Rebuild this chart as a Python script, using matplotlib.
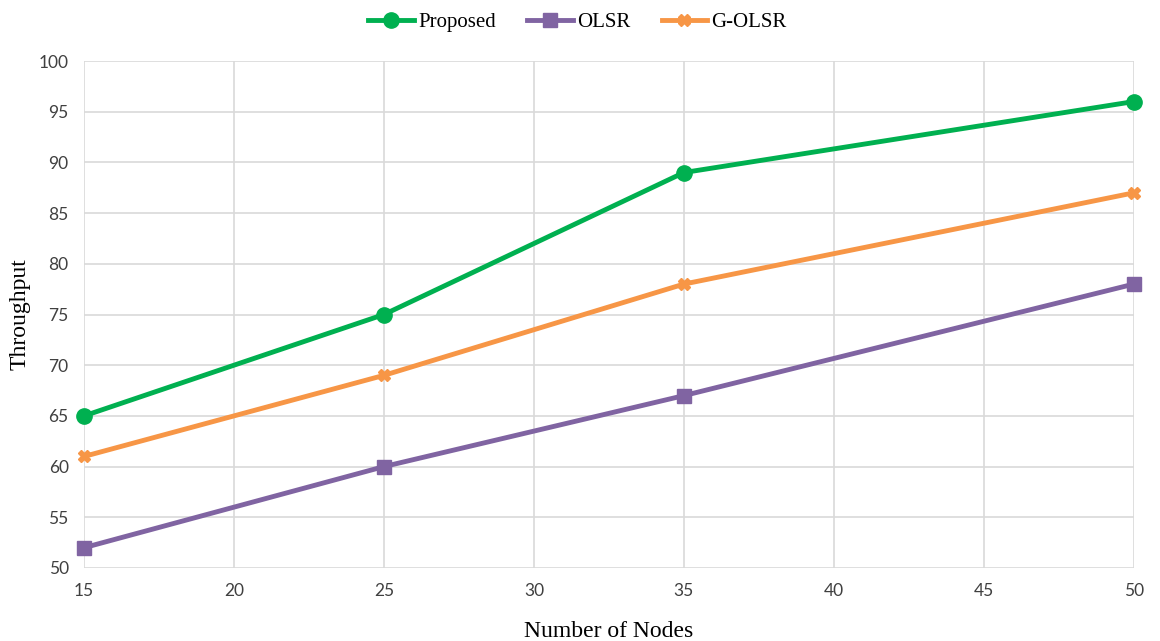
import matplotlib.pyplot as plt

nodes = [15, 25, 35, 50]
proposed = [65, 75, 89, 96]
olsr = [52, 60, 67, 78]
golsr = [61, 69, 78, 87]

fig = plt.figure(figsize=(11.6, 6.41), dpi=100)
ax = fig.add_axes([0.0724, 0.1139, 0.905, 0.7909])

ax.plot(nodes, proposed, color='#00B050', lw=3.5, marker='o', ms=11, label='Proposed', zorder=3, clip_on=False)
ax.plot(nodes, olsr, color='#8064A2', lw=3.5, marker='s', ms=10, label='OLSR', zorder=3, clip_on=False)
ax.plot(nodes, golsr, color='#F79646', lw=3.5, marker='X', ms=9, label='G-OLSR', zorder=3, clip_on=False)

ax.set_xlim(15, 50)
ax.set_ylim(50, 100)
ax.set_xticks(range(15, 51, 5))
ax.set_yticks(range(50, 101, 5))
ax.grid(True, color='#D9D9D9', lw=1.2)
for s in ax.spines.values():
    s.set_visible(False)
ax.tick_params(length=0, labelsize=12.5, colors='#404040', pad=11)
for lab in ax.get_xticklabels() + ax.get_yticklabels():
    lab.set_family('Lato')

ax.set_xlabel('Number of Nodes', family='Liberation Serif', fontsize=17, labelpad=16)
ax.set_ylabel('Throughput', family='Liberation Serif', fontsize=17, labelpad=6)

leg = ax.legend(loc='lower center', bbox_to_anchor=(0.47, 1.02), ncol=3, frameon=False,
                prop={'family': 'Liberation Serif', 'size': 15}, handlelength=2.2,
                columnspacing=1.5, handletextpad=0.2)

fig.savefig('out.png', dpi=100)
